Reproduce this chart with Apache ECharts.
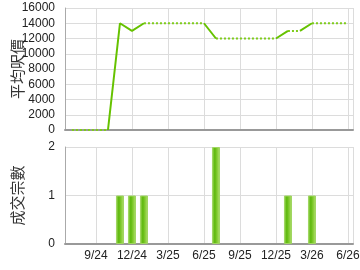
<!DOCTYPE html>
<html>
<head>
<meta charset="utf-8">
<script src="https://cdn.jsdelivr.net/npm/echarts@6/dist/echarts.min.js"></script>
<style>
  html, body { margin: 0; padding: 0; background: #fff; }
  #chart { width: 360px; height: 270px; }
</style>
</head>
<body>
<div id="chart"></div>
<script>
// 月份（x 值 = 相對 2024年9月 的月數）
var months = ['2024-07', '2024-08', '2024-09', '2024-10', '2024-11', '2024-12',
  '2025-01', '2025-02', '2025-03', '2025-04', '2025-05', '2025-06',
  '2025-07', '2025-08', '2025-09', '2025-10', '2025-11', '2025-12',
  '2026-01', '2026-02', '2026-03', '2026-04', '2026-05', '2026-06'];
var avgPrice = [0, 0, 0, 0, 14000, 13000,
  14000, 14000, 14000, 14000, 14000, 14000,
  12000, 12000, 12000, 12000, 12000, 12000,
  13000, 13000, 14000, 14000, 14000, 14000];
var dealCount = [0, 0, 0, 0, 1, 1,
  1, 0, 0, 0, 0, 0,
  2, 0, 0, 0, 0, 0,
  1, 0, 1, 0, 0, 0];
var xMin = -2.58, xMax = 21.42;

function monthToX(m) {
  var p = m.split('-');
  return (Number(p[0]) - 2024) * 12 + Number(p[1]) - 9;
}
function xLabel(v) {
  if (Math.abs(v - Math.round(v)) > 0.01 || Math.round(v) % 3 !== 0) return '';
  var t = Math.round(v) + 8;
  var y = 24 + Math.floor(t / 12);
  return (t % 12 + 1) + '/' + y;
}

// 有成交的月份用實線，否則虛線
var solid = [], dotted = [];
function pushSeg(arr, px, py, x, y) {
  var last = arr[arr.length - 1];
  if (last && last[0] === px) {
    arr.push([x, y]);
  } else {
    if (arr.length) arr.push(null);
    arr.push([px, py], [x, y]);
  }
}
months.forEach(function (m, i) {
  if (i === 0) return;
  var px = monthToX(months[i - 1]);
  pushSeg(dealCount[i] > 0 ? solid : dotted, px, avgPrice[i - 1], monthToX(m), avgPrice[i]);
});
var bars = [];
months.forEach(function (m, i) {
  if (dealCount[i] > 0) bars.push([monthToX(m), dealCount[i]]);
});

var labelStyle = { color: '#222', fontSize: 12, fontFamily: 'Liberation Sans' };
var splitStyle = { lineStyle: { color: '#dcdcdc', width: 1 } };
var nameStyle = { fontSize: 15, color: '#333', fontFamily: 'Noto Sans CJK TC' };

var myChart = echarts.init(document.getElementById('chart'));
myChart.setOption({
  animation: false,
  grid: [
    { left: 65, top: 8, width: 288, height: 122, outerBoundsMode: 'none' },
    { left: 65, top: 147, width: 288, height: 97, outerBoundsMode: 'none' }
  ],
  xAxis: [
    {
      gridIndex: 0, type: 'value', min: xMin, max: xMax, splitNumber: 8,
      axisLine: { onZero: false, lineStyle: { color: '#999', width: 2 } },
      axisTick: { show: false },
      axisLabel: { show: false },
      splitLine: splitStyle
    },
    {
      gridIndex: 1, type: 'value', min: xMin, max: xMax, splitNumber: 8,
      axisLine: { onZero: false, lineStyle: { color: '#999', width: 2 } },
      axisTick: { show: false },
      axisLabel: Object.assign({ formatter: xLabel, margin: 6, showMinLabel: false, showMaxLabel: false }, labelStyle),
      splitLine: splitStyle
    }
  ],
  yAxis: [
    {
      gridIndex: 0, type: 'value', min: 0, max: 16000, interval: 2000,
      name: '平均呎價', nameLocation: 'middle', nameGap: 40, nameMoveOverlap: false,
      nameTextStyle: nameStyle,
      axisLine: { show: true, onZero: false, lineStyle: { color: '#aaa' } },
      axisTick: { show: false },
      axisLabel: Object.assign({ margin: 10, formatter: function (v) { return String(v); } }, labelStyle),
      splitLine: splitStyle
    },
    {
      gridIndex: 1, type: 'value', min: 0, max: 2, interval: 1,
      name: '成交宗數', nameLocation: 'middle', nameGap: 40, nameMoveOverlap: false,
      nameTextStyle: nameStyle,
      axisLine: { show: true, onZero: false, lineStyle: { color: '#aaa' } },
      axisTick: { show: false },
      axisLabel: Object.assign({ margin: 10 }, labelStyle),
      splitLine: splitStyle
    }
  ],
  series: [
    {
      type: 'line', xAxisIndex: 0, yAxisIndex: 0, data: dotted,
      showSymbol: false, connectNulls: false,
      lineStyle: { color: '#7fcc1c', width: 2, type: [2, 2] }
    },
    {
      type: 'line', xAxisIndex: 0, yAxisIndex: 0, data: solid,
      showSymbol: false, connectNulls: false,
      lineStyle: { color: '#66c200', width: 2 }
    },
    {
      type: 'bar', xAxisIndex: 1, yAxisIndex: 1, data: bars, barWidth: 8,
      itemStyle: {
        borderColor: '#9fd660', borderWidth: 1,
        color: new echarts.graphic.LinearGradient(0, 0, 1, 0, [
          { offset: 0, color: '#a6da68' },
          { offset: 0.35, color: '#5cb80a' },
          { offset: 0.7, color: '#8ccf3c' },
          { offset: 1, color: '#b6e07c' }
        ])
      }
    }
  ]
});
</script>
</body>
</html>
